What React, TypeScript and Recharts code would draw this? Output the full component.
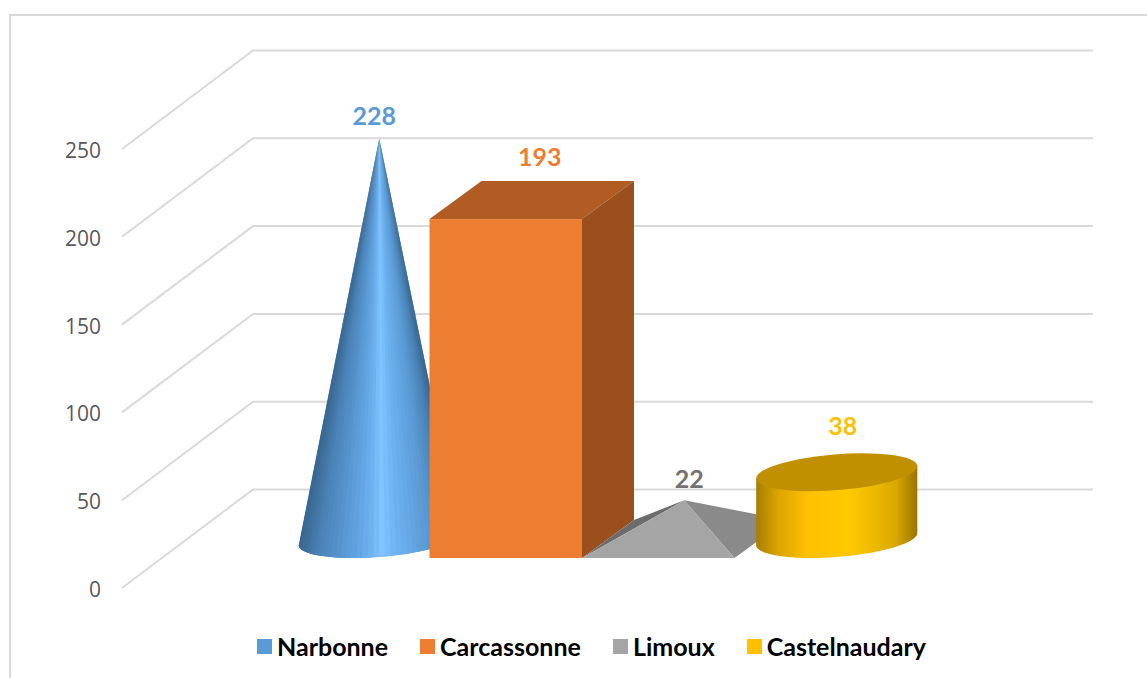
import { Bar, BarChart, CartesianGrid, LabelList, Legend, XAxis, YAxis } from "recharts";

const seriesNames = ["Narbonne", "Carcassonne", "Limoux", "Castelnaudary"];
const seriesValues = [228, 193, 22, 38];
const seriesColors = ["#5b9bd5", "#ed7d31", "#a5a5a5", "#ffc000"];
const labelColors = ["#5b9bd5", "#ed7d31", "#767171", "#ffc000"];
const yTicks = [0, 50, 100, 150, 200, 250];

const rows = [
  Object.fromEntries([["name", ""], ...seriesNames.map((n, i) => [n, seriesValues[i]])]),
];

// fake 3d: columns sit a bit above the front edge of the floor
const FLOOR_LIFT = 30;
const DEPTH_X = 52;
const DEPTH_Y = 38;
const BACK_X = 131;
const BACK_Y = 98.5;

const lerp = (a: number, b: number, f: number) => a + (b - a) * f;
const toRgb = (hex: string) => [1, 3, 5].map((i) => parseInt(hex.slice(i, i + 2), 16));

function ramp(stops: [number, string][], f: number) {
  for (let i = 1; i < stops.length; i++) {
    if (f <= stops[i][0]) {
      const [f0, c0] = stops[i - 1];
      const [f1, c1] = stops[i];
      const t = (f - f0) / (f1 - f0);
      const a = toRgb(c0);
      const b = toRgb(c1);
      return `rgb(${a.map((v, k) => Math.round(lerp(v, b[k], t))).join(",")})`;
    }
  }
  return stops[stops.length - 1][1];
}

// lower half of the skewed ellipse that fills the bar's floor parallelogram
function lowerArc(cx: number, cy: number, halfW: number, steps: number) {
  const skewX = DEPTH_X / 2;
  const skewY = DEPTH_Y / 2;
  const start = Math.PI + Math.atan2(skewX, halfW);
  const pts: [number, number][] = [];
  for (let i = 0; i <= steps; i++) {
    const t = start + (Math.PI * i) / steps;
    pts.push([cx + halfW * Math.cos(t) + skewX * Math.sin(t), cy - skewY * Math.sin(t)]);
  }
  return pts;
}

const coneStops: [number, string][] = [
  [0, "#38668f"],
  [0.12, "#4a82b6"],
  [0.3, "#5b9bd5"],
  [0.44, "#6cb0ee"],
  [0.52, "#80c4ff"],
  [0.62, "#6cb0ee"],
  [0.8, "#5b9bd5"],
  [0.92, "#4a82b6"],
  [1, "#38668f"],
];

function ConeShape({ x, y, width, height }: any) {
  const bottom = y + height - FLOOR_LIFT;
  const top = y - FLOOR_LIFT;
  const cx = x + width / 2 + DEPTH_X / 2;
  const cy = bottom - DEPTH_Y / 2;
  const apexY = top - DEPTH_Y / 2;
  const arc = lowerArc(cx, cy, width / 2, 44);
  const xMin = arc[0][0];
  const xMax = arc[arc.length - 1][0];
  return (
    <g>
      {arc.slice(1).map((p, i) => {
        // each slice runs on under the next one so no seams show
        const q = arc[i];
        const next = arc[Math.min(i + 2, arc.length - 1)];
        const color = ramp(coneStops, ((p[0] + q[0]) / 2 - xMin) / (xMax - xMin));
        return (
          <polygon
            key={i}
            points={`${cx},${apexY} ${q[0]},${q[1]} ${p[0]},${p[1]} ${next[0]},${next[1]}`}
            fill={color}
          />
        );
      })}
    </g>
  );
}

function BoxShape({ x, y, width, height }: any) {
  const bottom = y + height - FLOOR_LIFT;
  const top = y - FLOOR_LIFT;
  const right = x + width;
  return (
    <g>
      <polygon
        points={`${x},${top} ${right},${top} ${right + DEPTH_X},${top - DEPTH_Y} ${x + DEPTH_X},${top - DEPTH_Y}`}
        fill="#b15c22"
      />
      <polygon
        points={`${right},${top} ${right + DEPTH_X},${top - DEPTH_Y} ${right + DEPTH_X},${bottom - DEPTH_Y} ${right},${bottom}`}
        fill="#9a4f1d"
      />
      <rect x={x} y={top} width={width} height={bottom - top} fill="#ed7d31" />
    </g>
  );
}

function PyramidShape({ x, y, width, height }: any) {
  const bottom = y + height - FLOOR_LIFT;
  const top = y - FLOOR_LIFT;
  const right = x + width;
  const apexX = x + width / 2 + DEPTH_X / 2;
  const apexY = top - DEPTH_Y / 2;
  return (
    <g>
      <polygon
        points={`${x},${bottom} ${x + DEPTH_X},${bottom - DEPTH_Y} ${apexX},${apexY}`}
        fill="#6c6c6c"
      />
      <polygon
        points={`${right},${bottom} ${right + DEPTH_X},${bottom - DEPTH_Y} ${apexX},${apexY}`}
        fill="#8a8a8a"
      />
      <polygon points={`${x},${bottom} ${right},${bottom} ${apexX},${apexY}`} fill="#a5a5a5" />
    </g>
  );
}

function CylinderShape({ x, y, width, height }: any) {
  const bottom = y + height - FLOOR_LIFT;
  const top = y - FLOOR_LIFT;
  const cx = x + width / 2 + DEPTH_X / 2;
  const arc = lowerArc(cx, bottom - DEPTH_Y / 2, width / 2, 48);
  const rise = bottom - top;
  const side =
    `M${arc[0][0]},${arc[0][1] - rise} ` +
    arc.map((p) => `L${p[0]},${p[1]}`).join(" ") +
    ` L${arc[arc.length - 1][0]},${arc[arc.length - 1][1] - rise} Z`;
  return (
    <g>
      <defs>
        <linearGradient id="cylinderSide" x1="0" y1="0" x2="1" y2="0">
          <stop offset="0%" stopColor="#a67d00" />
          <stop offset="14%" stopColor="#dca600" />
          <stop offset="32%" stopColor="#ffc000" />
          <stop offset="58%" stopColor="#ffc900" />
          <stop offset="86%" stopColor="#dcaa00" />
          <stop offset="100%" stopColor="#9a7400" />
        </linearGradient>
      </defs>
      <path d={side} fill="url(#cylinderSide)" />
      <ellipse
        cx={0}
        cy={0}
        rx={1}
        ry={1}
        fill="#c09000"
        transform={`matrix(${width / 2},0,${DEPTH_X / 2},${-DEPTH_Y / 2},${cx},${top - DEPTH_Y / 2})`}
      />
    </g>
  );
}

// side wall + back wall, hung on the grid so they follow the y scale
function WallLine({ x1, y1 }: any) {
  return (
    <polyline
      points={`${x1},${y1} ${x1 + BACK_X},${y1 - BACK_Y} 1093,${y1 - BACK_Y}`}
      fill="none"
      stroke="#d9d9d9"
      strokeWidth={2}
    />
  );
}

function AxisTick({ y, payload }: any) {
  return (
    <text
      x={101}
      y={y + 1}
      textAnchor="end"
      dominantBaseline="central"
      fill="#595959"
      fontSize={21}
      fontFamily="'Open Sans', sans-serif"
    >
      {payload.value}
    </text>
  );
}

function valueLabel(color: string, dx: number, dy: number) {
  return ({ x, y, width, value }: any) => (
    <text
      x={x + width / 2 + dx}
      y={y - FLOOR_LIFT + dy}
      textAnchor="middle"
      dominantBaseline="central"
      fill={color}
      fontSize={25}
      fontWeight={700}
      fontFamily="Lato, sans-serif"
    >
      {value}
    </text>
  );
}

function LegendRow({ payload }: any) {
  return (
    <div style={{ display: "flex", alignItems: "center", gap: 32 }}>
      {payload.map((item: any) => (
        <div key={item.value} style={{ display: "flex", alignItems: "center", gap: 5 }}>
          <span style={{ width: 15, height: 15, background: item.color, display: "block" }} />
          <span
            style={{
              fontFamily: "Lato, sans-serif",
              fontWeight: 700,
              fontSize: 25,
              lineHeight: "28px",
              color: "#000",
            }}
          >
            {item.value}
          </span>
        </div>
      ))}
    </div>
  );
}

const shapes = [ConeShape, BoxShape, PyramidShape, CylinderShape];
const labelOffsets = [
  [21, -43],
  [34, -63],
  [31, -41],
  [32, -66],
];

export default function App() {
  return (
    <div style={{ position: "absolute", left: 0, top: 0, width: 1147, height: 678, background: "#fff" }}>
      <div
        style={{
          position: "absolute",
          left: 9,
          top: 14,
          right: 0,
          bottom: 0,
          borderLeft: "2px solid #d9d9d9",
          borderTop: "2px solid #d9d9d9",
        }}
      />
      <BarChart
        width={1147}
        height={678}
        data={rows}
        margin={{ top: 149, right: 106, bottom: 90, left: 0 }}
        barGap={0}
        barSize={152.5}
        style={{ position: "absolute", left: 0, top: 0 }}
      >
        <CartesianGrid vertical={false} horizontal={<WallLine />} />
        <XAxis dataKey="name" hide />
        <YAxis
          width={122}
          domain={[0, 250]}
          ticks={yTicks}
          interval={0}
          axisLine={false}
          tickLine={false}
          tick={<AxisTick />}
        />
        <Legend
          verticalAlign="middle"
          layout="horizontal"
          itemSorter={null}
          content={<LegendRow />}
          wrapperStyle={{ position: "absolute", left: 257, top: 632, width: "auto" }}
        />
        {seriesNames.map((name, i) => (
          <Bar
            key={name}
            dataKey={name}
            fill={seriesColors[i]}
            shape={shapes[i]}
            isAnimationActive={false}
          >
            <LabelList
              dataKey={name}
              content={valueLabel(labelColors[i], labelOffsets[i][0], labelOffsets[i][1])}
            />
          </Bar>
        ))}
      </BarChart>
    </div>
  );
}
